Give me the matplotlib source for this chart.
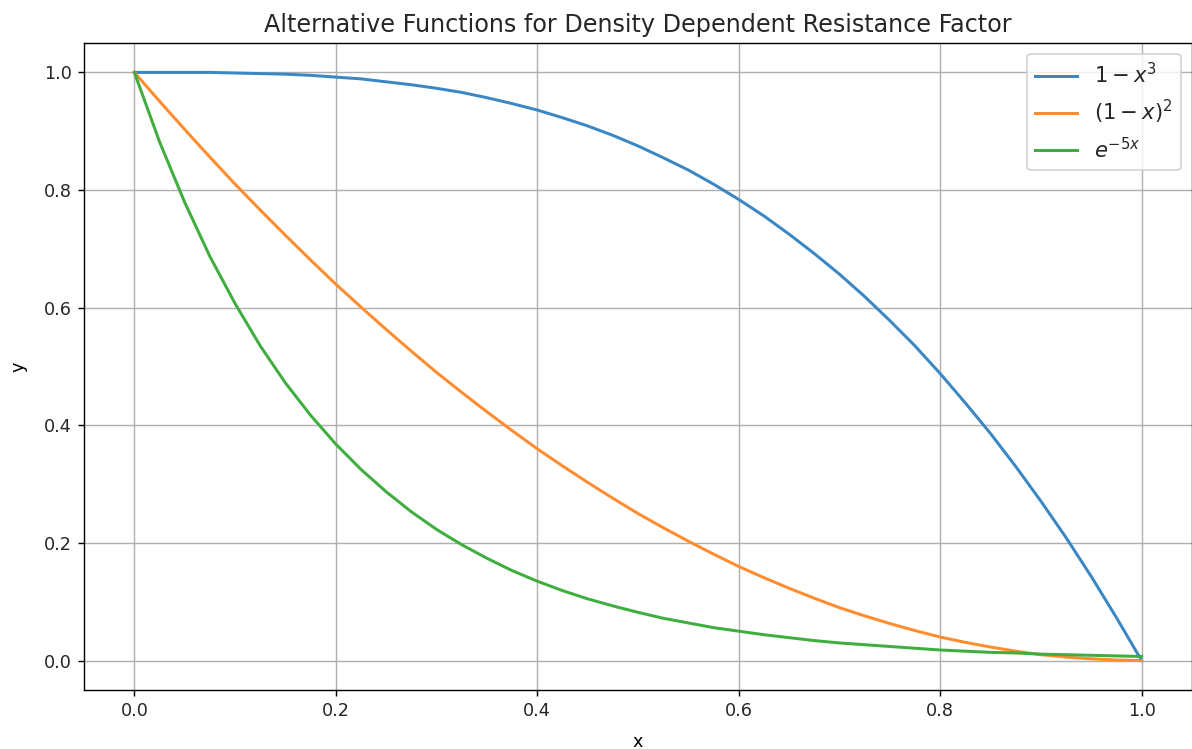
import numpy as np
import matplotlib
matplotlib.use('Agg')
import matplotlib.pyplot as plt

# values at x steps of 0.025
x = [0.0, 0.025, 0.05, 0.075, 0.1, 0.125, 0.15, 0.175, 0.2, 0.225,
     0.25, 0.275, 0.3, 0.325, 0.35, 0.375, 0.4, 0.425, 0.45, 0.475,
     0.5, 0.525, 0.55, 0.575, 0.6, 0.625, 0.65, 0.675, 0.7, 0.725,
     0.75, 0.775, 0.8, 0.825, 0.85, 0.875, 0.9, 0.925, 0.95, 0.975, 1.0]

y_cubic = [1.0, 1.0, 1.0, 1.0, 0.999, 0.998, 0.997, 0.995, 0.992, 0.989,
           0.984, 0.979, 0.973, 0.966, 0.957, 0.947, 0.936, 0.923, 0.909, 0.893,
           0.875, 0.855, 0.834, 0.810, 0.784, 0.756, 0.725, 0.692, 0.657, 0.619,
           0.578, 0.535, 0.488, 0.438, 0.386, 0.330, 0.271, 0.209, 0.143, 0.073, 0.0]

y_square = [1.0, 0.951, 0.903, 0.856, 0.81, 0.766, 0.723, 0.681, 0.64, 0.601,
            0.563, 0.526, 0.49, 0.456, 0.423, 0.391, 0.36, 0.331, 0.303, 0.276,
            0.25, 0.226, 0.203, 0.181, 0.16, 0.141, 0.123, 0.106, 0.09, 0.076,
            0.063, 0.051, 0.04, 0.031, 0.023, 0.016, 0.01, 0.006, 0.003, 0.001, 0.0]

y_exp = [1.0, 0.882, 0.779, 0.687, 0.607, 0.535, 0.472, 0.417, 0.368, 0.325,
         0.287, 0.253, 0.223, 0.197, 0.174, 0.153, 0.135, 0.119, 0.105, 0.093,
         0.082, 0.072, 0.064, 0.056, 0.050, 0.044, 0.039, 0.034, 0.030, 0.027,
         0.024, 0.021, 0.018, 0.016, 0.014, 0.013, 0.011, 0.010, 0.009, 0.008, 0.007]

labels = [r'$1-x^3$', r'$(1-x)^2$', r'$e^{-5x}$']
colors = ['#3a87c4', '#ff8c2e', '#3fae3f']

dpi = 127
plt.rcParams['text.color'] = '#262626'
plt.rcParams['xtick.labelcolor'] = '#262626'
plt.rcParams['ytick.labelcolor'] = '#262626'
fig = plt.figure(figsize=[1192 / dpi, 749 / dpi], dpi=dpi)
fig.subplots_adjust(left=84 / 1192, right=1.0, top=1 - 43 / 749, bottom=1 - 690 / 749)
ax = fig.add_subplot(111)

for yy, lab, c in zip([y_cubic, y_square, y_exp], labels, colors):
    ax.plot(x, yy, label=lab, color=c, linewidth=1.7)

ax.set_xlim(-0.05, 1.05)
ax.set_ylim(-0.05, 1.05)
ax.set_xticks(np.arange(0, 1.01, 0.2))
ax.set_yticks(np.arange(0, 1.01, 0.2))
ax.set_xlabel('x', labelpad=7)
ax.set_ylabel('y', labelpad=9)
ax.set_title('Alternative Functions for Density Dependent Resistance Factor', fontsize=13.5)
ax.grid(True)
ax.legend(loc='upper right', fontsize=12)

fig.savefig('out.png', dpi=dpi)
